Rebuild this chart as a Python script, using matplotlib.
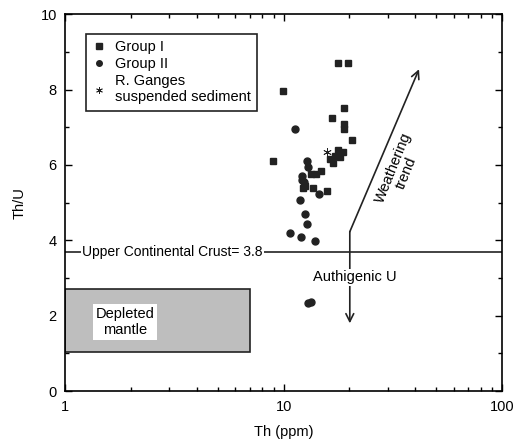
import matplotlib
matplotlib.use("Agg")
import matplotlib.pyplot as plt
from matplotlib.patches import Rectangle
from matplotlib.ticker import LogLocator, MultipleLocator, NullFormatter

plt.rcParams["font.family"] = ["Liberation Sans", "DejaVu Sans"]

# ── Data ────────────────────────────────────────────────
group1_th = [17.8, 19.8, 9.9, 18.9, 16.6, 18.9, 18.9, 20.5, 8.9, 17.8, 18.8,
             17.2, 16.3, 18.1, 16.9, 13.4, 14.1, 14.9, 12.3, 13.7, 15.8, 12.6]
group1_thu = [8.7, 8.7, 7.95, 7.5, 7.25, 7.1, 6.95, 6.65, 6.1, 6.4, 6.35,
              6.25, 6.15, 6.2, 6.05, 5.75, 5.75, 5.85, 5.4, 5.4, 5.3, 5.45]

group2_th = [11.3, 12.8, 12.9, 12.1, 12.4, 12.2, 14.6, 11.9, 12.6, 12.8,
             10.7, 12.0, 13.9, 12.9, 13.3]
group2_thu = [6.95, 6.1, 5.95, 5.7, 5.55, 5.6, 5.23, 5.08, 4.7, 4.43,
              4.2, 4.08, 3.98, 2.35, 2.37]

ganges_th = [15.8]
ganges_thu = [6.35]

ucc_thu = 3.7
mantle_th = (1.0, 7.0)
mantle_thu = (1.05, 2.7)
arrow_corner = (20.1, 4.23)
arrow_down = (20.1, 1.8)
arrow_up = (41.7, 8.54)

# ── Figure ──────────────────────────────────────────────
fig = plt.figure(figsize=(5.17, 4.43), dpi=100)
ax = fig.add_axes([0.126, 0.117, 0.845, 0.851])
ax.set_xscale("log")
ax.set_xlim(1, 100)
ax.set_ylim(0, 10)

ax.plot(group1_th, group1_thu, "s", color="#222222", ms=5, mec="#222222",
        label="Group I", zorder=4)
ax.plot(group2_th, group2_thu, "o", color="#222222", ms=5, mec="#222222",
        label="Group II", zorder=4)
ax.plot(ganges_th, ganges_thu, color="#222222", ms=6, mew=0.6, ls="none",
        label="R. Ganges\nsuspended sediment", zorder=5, marker=(6, 2, 0))

# Upper continental crust
ax.axhline(ucc_thu, color="#222222", lw=1.2, zorder=2)
ax.text(1.2, ucc_thu, "Upper Continental Crust= 3.8", fontsize=10,
        va="center", ha="left", zorder=3,
        bbox=dict(facecolor="white", edgecolor="none", pad=1))

# Depleted mantle box
ax.add_patch(Rectangle((mantle_th[0], mantle_thu[0]),
                       mantle_th[1] - mantle_th[0], mantle_thu[1] - mantle_thu[0],
                       facecolor="#bebebe", edgecolor="#222222", lw=1.2, zorder=2))
ax.text(1.88, 1.84, "Depleted\nmantle", fontsize=10.5, ha="center", va="center",
        zorder=3, bbox=dict(facecolor="white", edgecolor="none", pad=2))

# Arrows
ax.annotate("", xy=arrow_down, xytext=arrow_corner, zorder=3,
            arrowprops=dict(arrowstyle="->", color="#222222", lw=1.2,
                            shrinkA=0, shrinkB=0, mutation_scale=14))
ax.annotate("", xy=arrow_up, xytext=arrow_corner, zorder=3,
            arrowprops=dict(arrowstyle="->", color="#222222", lw=1.2,
                            shrinkA=0, shrinkB=0, mutation_scale=14))
ax.text(21.3, 3.02, "Authigenic U", fontsize=10.5, ha="center", va="center",
        zorder=4, bbox=dict(facecolor="white", edgecolor="none", pad=1))
ax.text(34.0, 5.86, "Weathering\ntrend", fontsize=10.5, ha="center", va="center",
        rotation=68, rotation_mode="anchor", linespacing=1.0)

# Axes styling
ax.set_xticks([1, 10, 100])
ax.set_xticklabels(["1", "10", "100"])
ax.xaxis.set_minor_locator(LogLocator(base=10, subs=range(2, 10)))
ax.xaxis.set_minor_formatter(NullFormatter())
ax.yaxis.set_major_locator(MultipleLocator(2))
ax.yaxis.set_minor_locator(MultipleLocator(1))
ax.tick_params(which="both", direction="in", top=True, right=True,
               labelsize=10.5, width=1, pad=6)
ax.tick_params(which="major", length=5)
ax.tick_params(which="minor", length=3)
for s in ax.spines.values():
    s.set_linewidth(1.2)

ax.set_xlabel("Th (ppm)", fontsize=10.5, labelpad=8)
ax.set_ylabel("Th/U", fontsize=10.5, labelpad=10)

leg = ax.legend(loc="upper left", bbox_to_anchor=(0.048, 0.948), fancybox=False,
                framealpha=1, edgecolor="#222222", fontsize=10.5,
                handlelength=0.8, handletextpad=0.7, labelspacing=0.2,
                borderpad=0.45, borderaxespad=0, markerscale=0.8)
leg.get_frame().set_linewidth(1.2)

fig.savefig("out.png", dpi=100, facecolor="white")
